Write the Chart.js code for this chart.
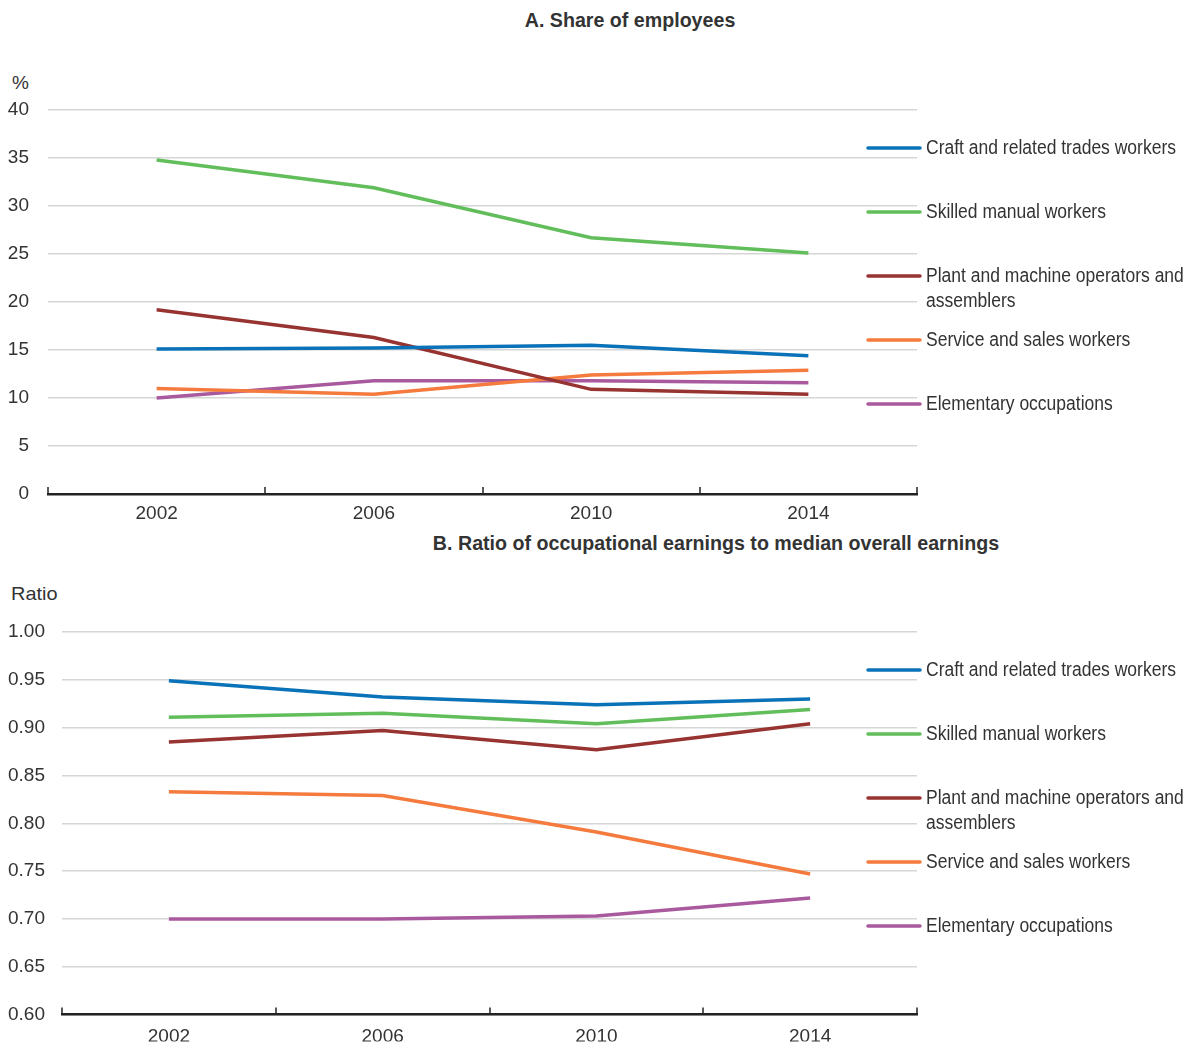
<!DOCTYPE html>
<html>
<head>
<meta charset="utf-8">
<script src="https://cdn.jsdelivr.net/npm/chart.js@4.4.1/dist/chart.umd.min.js"></script>
<style>
    body { margin: 0; background: #fff; width: 1191px; height: 1043px; position: relative; overflow: hidden;
           font-family: 'Liberation Sans', Arial, sans-serif; color: #333; }
    .title { position: absolute; font-weight: bold; font-size: 21px; white-space: nowrap;
             transform: translateX(-50%) scaleX(0.935); }
    .unit { position: absolute; font-size: 19px; }
    canvas { position: absolute; left: 0; }
</style>
</head>
<body>
<div class="title" style="left:630px; top:8px;">A. Share of employees</div>
<div class="unit" style="left:12px; top:72px;">%</div>
<canvas id="chartA" width="1191" height="530" style="top:0px;"></canvas>

<div class="title" style="left:716px; top:531px;">B. Ratio of occupational earnings to median overall earnings</div>
<div class="unit" style="left:11px; top:583px; transform-origin:left; transform:scaleX(1.05);">Ratio</div>
<canvas id="chartB" width="1191" height="518" style="top:525px;"></canvas>

<script>
// --- Daten ---
const years = ['2002', '2006', '2010', '2014'];
const seriesNames = [
    'Craft and related trades workers',
    'Skilled manual workers',
    ['Plant and machine operators and', 'assemblers'],
    'Service and sales workers',
    'Elementary occupations'
];
const seriesColors = ['#0a72b8', '#62bd5b', '#973330', '#f47a3d', '#a95a9e'];

// Panel A: share of employees (%)
const shareCraft      = [15.1, 15.2, 15.5, 14.4];
const shareSkilled    = [34.8, 31.9, 26.7, 25.1];
const sharePlant      = [19.2, 16.3, 10.9, 10.4];
const shareService    = [11.0, 10.4, 12.4, 12.9];
const shareElementary = [10.0, 11.8, 11.8, 11.6];

// Panel B: ratio to median overall earnings
const ratioCraft      = [0.949, 0.932, 0.924, 0.930];
const ratioSkilled    = [0.911, 0.915, 0.904, 0.919];
const ratioPlant      = [0.885, 0.897, 0.877, 0.904];
const ratioService    = [0.833, 0.829, 0.791, 0.747];
const ratioElementary = [0.700, 0.700, 0.703, 0.722];

const FONT = "'Liberation Sans', Arial, sans-serif";
const TEXT = '#333333';
const LEGEND_TEXT_WIDTH = 250; // Breite der längsten Legendenzeile (schmale Schrift im Original)

// --- Legende + nach oben zeigende Achsen-Ticks als Plugin ---
const legendAndTicks = {
    id: 'legendAndTicks',
    afterDraw(chart) {
        const ctx = chart.ctx;
        const area = chart.chartArea;
        const xs = chart.scales.x;

        // Ticks zwischen den Kategorien (zeigen nach oben)
        ctx.save();
        ctx.strokeStyle = '#222';
        ctx.lineWidth = 1.5;
        for (let i = 0; i <= years.length; i++) {
            const x = Math.round(xs.getPixelForValue(i - 0.5));
            ctx.beginPath();
            ctx.moveTo(x, area.bottom - 7);
            ctx.lineTo(x, area.bottom);
            ctx.stroke();
        }
        ctx.restore();

        // Legende rechts (Text horizontal gestaucht)
        ctx.save();
        ctx.font = '20px ' + FONT;
        const sx = LEGEND_TEXT_WIDTH / ctx.measureText(seriesNames[0]).width;
        ctx.fillStyle = TEXT;
        ctx.textBaseline = 'middle';
        ctx.lineCap = 'round';
        seriesNames.forEach((name, i) => {
            const y = area.top + 38 + i * 64;
            ctx.strokeStyle = seriesColors[i];
            ctx.lineWidth = 3.5;
            ctx.beginPath();
            ctx.moveTo(868, y);
            ctx.lineTo(920, y);
            ctx.stroke();
            const lines = Array.isArray(name) ? name : [name];
            lines.forEach((ln, j) => {
                ctx.save();
                ctx.translate(926, y + j * 25);
                ctx.scale(sx, 1);
                ctx.fillText(ln, 0, 0);
                ctx.restore();
            });
        });
        ctx.restore();
    }
};

function makeDatasets(arrays) {
    return arrays.map((arr, i) => ({
        label: Array.isArray(seriesNames[i]) ? seriesNames[i].join(' ') : seriesNames[i],
        data: arr,
        borderColor: seriesColors[i],
        backgroundColor: seriesColors[i],
        borderWidth: 3.5,
        pointRadius: 0,
        tension: 0,
        fill: false
    }));
}

function makeOptions(cfg) {
    return {
        responsive: false,
        animation: false,
        layout: { padding: { top: cfg.top, right: 274, left: 0, bottom: 0 } },
        plugins: { legend: { display: false }, tooltip: { enabled: false } },
        scales: {
            x: {
                offset: true,
                grid: { display: false },
                border: { display: true, color: '#222', width: 2.5 },
                ticks: { color: TEXT, font: { family: FONT, size: 19 }, padding: cfg.xPad, maxRotation: 0 },
                afterFit: s => { s.height = cfg.xHeight; }
            },
            y: {
                min: cfg.min,
                max: cfg.max,
                grid: { color: '#d6d6d6', lineWidth: 1.5, drawTicks: false },
                border: { display: false },
                ticks: {
                    stepSize: cfg.step,
                    color: TEXT,
                    font: { family: FONT, size: 19 },
                    padding: cfg.yPad,
                    callback: cfg.fmt
                },
                afterFit: s => { s.width = cfg.yWidth; }
            }
        }
    };
}

new Chart(document.getElementById('chartA'), {
    type: 'line',
    data: {
        labels: years,
        datasets: makeDatasets([shareCraft, shareSkilled, sharePlant, shareService, shareElementary])
    },
    options: makeOptions({ top: 110, xHeight: 36, xPad: 0, yWidth: 48, yPad: 19, min: 0, max: 40, step: 5,
                           fmt: v => v }),
    plugins: [legendAndTicks]
});

new Chart(document.getElementById('chartB'), {
    type: 'line',
    data: {
        labels: years,
        datasets: makeDatasets([ratioCraft, ratioSkilled, ratioPlant, ratioService, ratioElementary])
    },
    options: makeOptions({ top: 107, xHeight: 27, xPad: 3, yWidth: 62, yPad: 17, min: 0.6, max: 1.0, step: 0.05,
                           fmt: v => Number(v).toFixed(2) }),
    plugins: [legendAndTicks]
});
</script>
</body>
</html>
